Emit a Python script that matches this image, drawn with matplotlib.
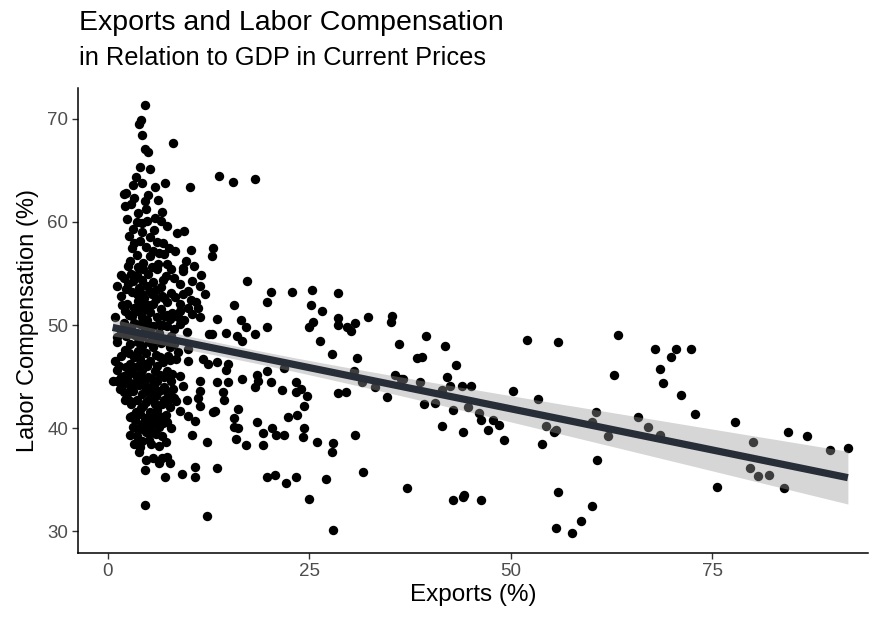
import numpy as np
import matplotlib
matplotlib.use('Agg')
import matplotlib.pyplot as plt

plt.rcParams['font.family'] = ['Liberation Sans', 'DejaVu Sans']

# exports (% of GDP), labor compensation (% of GDP) -- economies with small export shares
low_exports = [
    (4.6, 71.3), (4.1, 69.9), (3.9, 69.5), (4.2, 68.4), (4.6, 67.1), (5.0, 66.8), (8.1, 67.7),
    (4.0, 65.3), (5.2, 65.1), (3.5, 64.4), (3.1, 63.6), (4.2, 63.8), (5.8, 63.4), (7.1, 63.8),
    (10.2, 63.4), (2.3, 62.8), (2.0, 62.7), (6.2, 62.1), (2.1, 61.5), (2.9, 61.7), (3.7, 60.9),
    (4.8, 61.3), (6.7, 61.0), (5.8, 60.4), (3.6, 60.0), (4.3, 59.9), (3.1, 59.3), (4.3, 59.0),
    (2.6, 58.6), (5.2, 58.5), (6.1, 58.1), (6.8, 58.0), (8.6, 58.9), (9.5, 59.1), (3.0, 57.5),
    (4.8, 57.6), (3.6, 56.8), (5.2, 56.7), (10.3, 57.3), (2.5, 55.7), (6.2, 55.9), (7.4, 55.9),
    (9.3, 55.5), (3.7, 55.6), (6.1, 55.4), (7.9, 55.4), (9.3, 55.2), (6.8, 54.4), (1.2, 53.8),
    (3.1, 54.3), (4.3, 54.4), (5.6, 54.2), (10.4, 54.3), (11.6, 54.9), (11.4, 53.8), (1.6, 52.8),
    (3.0, 53.2), (4.3, 53.0), (5.2, 53.3), (6.7, 52.8), (9.3, 53.0), (9.9, 53.3), (12.0, 53.0),
    (2.4, 52.0), (3.7, 52.3), (5.6, 52.0), (7.3, 52.2), (8.9, 52.0), (2.1, 51.4), (3.6, 51.4),
    (5.2, 51.3), (8.9, 51.4), (9.9, 51.7), (11.2, 51.7), (0.9, 50.8), (3.0, 50.9), (4.3, 50.8),
    (6.1, 50.8), (7.7, 50.6), (8.7, 50.8), (10.5, 51.1), (11.4, 50.8), (4.0, 50.1), (5.6, 49.9),
    (7.3, 49.9), (8.9, 50.1), (9.8, 49.3), (12.6, 49.1), (1.1, 48.8), (4.3, 48.8), (2.4, 49.6),
    (6.4, 49.2), (1.1, 48.4), (2.7, 48.2), (4.3, 48.0), (5.6, 47.9), (7.7, 47.9), (8.7, 47.4),
    (9.9, 47.7), (8.5, 46.7), (9.9, 46.5), (11.8, 46.7), (12.4, 46.2), (0.9, 46.5), (1.7, 47.0),
    (2.7, 46.2), (4.0, 46.7), (5.2, 46.5), (6.8, 46.4), (1.2, 45.6), (3.0, 45.5), (4.3, 45.6),
    (5.8, 45.5), (7.4, 45.5), (8.9, 45.1), (1.1, 44.6), (2.5, 44.6), (4.3, 44.8), (6.1, 44.6),
    (7.9, 44.6), (9.3, 44.1), (11.4, 44.6), (0.6, 44.6), (1.5, 43.8), (3.1, 43.6), (4.8, 43.8),
    (6.4, 43.6), (8.1, 43.8), (11.4, 43.6), (2.1, 42.7), (3.6, 42.7), (5.2, 42.9), (7.3, 42.6),
    (9.8, 42.7), (11.2, 42.9), (2.7, 41.1), (4.0, 41.4), (5.2, 41.6), (6.4, 41.2), (7.7, 42.1),
    (8.9, 41.7), (9.9, 41.2), (10.8, 40.7), (11.4, 42.2), (3.0, 41.2), (3.1, 40.1), (4.3, 40.4),
    (5.5, 39.6), (6.7, 39.2), (7.9, 40.0), (2.7, 39.3), (3.3, 38.5), (4.2, 38.8), (6.4, 38.3),
    (10.5, 39.3), (12.3, 38.7), (4.8, 36.9), (5.6, 37.1), (6.7, 37.1), (7.4, 37.2), (4.6, 35.9),
    (6.4, 36.6), (7.7, 36.6), (7.1, 35.3), (9.2, 35.6), (10.8, 36.2), (10.8, 35.3), (4.6, 32.6),
    (4.9, 53.8), (4.5, 52.6), (5.0, 51.9), (4.6, 49.5), (5.1, 48.4), (4.7, 47.3), (5.0, 45.0),
    (4.6, 44.2), (5.3, 43.2), (4.4, 42.2), (5.8, 42.3), (5.0, 40.9), (3.8, 39.8), (5.9, 40.7),
    (3.7, 47.5), (3.4, 49.0), (6.0, 47.1), (6.3, 50.1), (2.9, 44.0), (3.6, 45.0),
    (2.0, 54.6), (3.6, 54.9), (5.0, 55.0), (6.6, 53.7), (7.8, 53.1), (2.3, 53.5), (3.9, 53.6),
    (6.0, 53.4), (1.8, 51.9), (3.2, 51.7), (4.4, 51.5), (6.6, 51.6), (8.0, 51.2), (2.0, 50.2),
    (3.3, 50.2), (4.9, 50.5), (7.0, 50.9), (1.7, 49.4), (3.1, 49.1), (5.4, 49.1), (7.8, 48.9),
    (2.1, 47.6), (6.6, 48.3), (8.2, 48.2), (2.6, 47.3), (4.5, 46.2), (6.1, 46.0), (7.7, 46.6),
    (2.0, 45.1), (3.7, 46.0), (6.5, 45.2), (8.0, 45.3), (1.9, 44.3), (3.4, 44.4), (5.6, 44.2),
    (7.0, 44.0), (2.4, 43.3), (4.2, 43.3), (6.0, 43.1), (7.6, 43.2), (2.9, 42.3), (4.7, 42.5),
    (6.7, 42.3), (8.5, 42.6), (3.5, 41.6), (4.6, 41.0), (6.1, 41.8), (7.2, 41.3), (3.9, 40.0),
    (5.3, 40.3), (6.8, 40.5), (4.7, 39.6), (6.0, 39.4), (3.6, 39.2), (5.1, 38.9),
    (2.8, 56.2), (4.4, 56.0), (5.6, 57.2), (7.0, 56.9), (8.2, 54.6), (2.9, 55.0), (4.4, 55.4),
    (5.5, 55.6), (7.2, 54.8), (1.6, 54.9), (2.5, 54.0), (3.6, 53.0), (5.5, 53.0), (7.0, 52.6),
    (8.3, 52.7), (2.6, 51.0), (4.0, 52.0), (6.0, 52.5), (7.4, 51.0), (9.4, 50.5), (2.9, 49.8),
    (5.0, 50.0), (6.8, 50.0), (8.2, 49.6), (3.8, 48.4), (5.9, 48.6), (7.1, 48.5), (2.2, 48.9),
    (10.3, 52.4), (11.0, 52.2), (9.0, 54.0), (10.7, 55.7), (8.3, 57.2), (7.6, 57.5), (6.4, 57.0),
    (4.0, 58.2), (9.7, 56.2),
    (1.4, 46.0), (2.2, 45.9), (3.2, 46.9), (4.9, 46.0), (6.5, 46.9), (7.5, 47.0), (1.6, 45.0),
    (2.6, 45.3), (4.0, 45.3), (5.5, 44.8), (7.0, 45.0), (2.0, 43.5), (3.9, 44.2), (5.9, 43.8),
    (7.3, 43.5), (2.7, 42.6), (4.1, 42.0), (5.6, 41.4), (7.0, 42.7), (8.2, 42.9), (3.4, 40.8),
    (4.6, 39.9), (6.3, 40.1), (7.3, 40.6), (4.0, 38.2), (5.4, 38.5), (7.2, 38.7), (3.9, 37.7),
    (3.3, 62.3), (5.0, 62.6), (4.9, 60.1), (3.3, 58.0), (5.7, 59.2), (7.4, 59.6), (2.4, 60.3),
    (6.6, 60.1), (4.6, 62.0),
]

# mid-range export shares
mid_exports = [
    (13.8, 64.5), (15.5, 63.9), (18.3, 64.2), (13.0, 57.5), (12.9, 56.7), (17.3, 54.3),
    (20.3, 53.2), (22.9, 53.2), (25.3, 53.4), (28.6, 53.1), (19.7, 52.2), (15.6, 51.9),
    (25.2, 51.9), (26.6, 51.4), (13.6, 50.6), (16.5, 50.5), (17.2, 49.8), (19.8, 49.8),
    (18.3, 49.1), (14.7, 49.2), (16.0, 48.9), (16.6, 48.5), (12.9, 49.1), (25.4, 50.3),
    (25.0, 49.8), (28.5, 50.7), (28.5, 50.0), (29.7, 49.8), (30.2, 49.4), (30.7, 50.2),
    (32.3, 50.8), (35.2, 50.9), (35.1, 50.3), (26.3, 48.5), (36.1, 48.2), (27.8, 47.2),
    (30.9, 46.8), (13.5, 46.4), (14.9, 46.2), (14.7, 45.6), (16.7, 44.8), (18.5, 45.2),
    (19.7, 45.5), (18.6, 44.6), (18.2, 44.0), (20.3, 44.5), (13.5, 44.5), (14.9, 44.5),
    (21.8, 45.8), (23.3, 44.5), (21.6, 43.7), (23.4, 43.5), (24.0, 43.8), (24.7, 43.1),
    (24.4, 42.2), (14.3, 43.5), (14.4, 42.7), (13.3, 41.7), (16.2, 41.9), (15.6, 41.0),
    (15.7, 40.1), (16.2, 40.0), (18.5, 40.6), (22.4, 41.1), (23.5, 41.3), (20.4, 40.0),
    (19.2, 39.5), (20.9, 39.3), (21.8, 39.3), (24.4, 40.0), (24.2, 39.1), (15.9, 39.0),
    (17.2, 38.4), (19.2, 38.4), (25.9, 38.7), (27.9, 38.6), (27.8, 37.7), (30.7, 39.3),
    (13.6, 36.1), (19.8, 35.3), (20.8, 35.5), (22.1, 34.7), (23.3, 35.3), (27.1, 35.1),
    (31.6, 35.8), (24.9, 33.1), (37.1, 34.2), (27.9, 30.1), (12.3, 31.5), (13.0, 41.6),
    (28.5, 43.4), (29.6, 43.5), (31.5, 44.5), (33.2, 44.0), (34.6, 43.0), (35.6, 45.2),
    (36.4, 44.8), (30.6, 45.5), (39.5, 48.9), (41.8, 48.0), (38.4, 46.8), (39.0, 46.9),
    (43.2, 46.1), (42.1, 45.0), (36.6, 44.8), (38.7, 44.5), (42.4, 44.1), (43.9, 44.1),
    (45.0, 44.1), (41.4, 43.7), (39.2, 42.3), (40.6, 42.4), (42.8, 41.8), (44.7, 42.1),
    (46.1, 41.5), (46.3, 40.8), (47.8, 40.8), (48.5, 40.3), (47.1, 39.8), (41.5, 40.2),
    (44.0, 39.6), (49.2, 38.9), (42.8, 33.0), (44.0, 33.3), (44.2, 33.5), (46.3, 33.0),
]

# high export shares
high_exports = [
    (50.3, 43.6), (53.4, 42.8), (52.0, 48.6), (55.9, 48.4), (54.4, 40.2), (55.4, 39.6),
    (53.9, 38.5), (60.6, 41.6), (60.7, 36.9), (55.8, 33.8), (60.1, 32.5), (58.7, 31.0),
    (57.6, 29.8), (55.6, 30.3), (63.3, 49.0), (67.9, 47.7), (70.5, 47.7), (72.4, 47.7),
    (69.8, 46.9), (68.5, 45.7), (68.9, 44.4), (62.8, 45.2), (71.1, 43.2), (72.9, 41.4),
    (60.0, 40.6), (65.8, 41.1), (67.0, 40.1), (68.5, 39.3), (62.0, 39.2), (77.8, 40.6),
    (80.0, 38.7), (84.4, 39.6), (86.7, 39.2), (89.6, 37.9), (91.8, 38.1), (79.6, 36.1),
    (80.7, 35.4), (82.0, 35.5), (83.9, 34.2), (75.6, 34.3), (55.6, 39.8),
]

pts = np.array(low_exports + mid_exports + high_exports)
exports = pts[:, 0]
labor = pts[:, 1]

# OLS fit with 95% confidence band
n = len(exports)
slope, intercept = np.polyfit(exports, labor, 1)
resid = labor - (intercept + slope * exports)
s = np.sqrt(np.sum(resid ** 2) / (n - 2))
xbar = exports.mean()
sxx = np.sum((exports - xbar) ** 2)
xs = np.linspace(exports.min(), exports.max(), 200)
fit = intercept + slope * xs
se = s * np.sqrt(1.0 / n + (xs - xbar) ** 2 / sxx)
tq = 1.967

fig = plt.figure(figsize=(8.73, 6.21), dpi=100)
ax = fig.add_axes([0.0893, 0.1095, 0.905, 0.749])

ax.scatter(exports, labor, s=46, color='black', lw=0, zorder=2)
ax.fill_between(xs, fit - tq * se, fit + tq * se, color='#999999', alpha=0.4, lw=0, zorder=3)
ax.plot(xs, fit, color='#272e38', lw=5.2, solid_capstyle='butt', zorder=4)

ax.set_xlim(-3.7, 94.3)
ax.set_ylim(27.9, 73.0)
ax.set_xticks([0, 25, 50, 75])
ax.set_yticks([30, 40, 50, 60, 70])

for side in ['top', 'right']:
    ax.spines[side].set_visible(False)
for side in ['left', 'bottom']:
    ax.spines[side].set_linewidth(1.1)
ax.tick_params(length=4, width=1.0, color='#333333', labelcolor='#4d4d4d', labelsize=13.5, pad=3)

ax.set_xlabel('Exports (%)', fontsize=17.5, labelpad=3)
ax.set_ylabel('Labor Compensation (%)', fontsize=17, labelpad=6)

fig.text(79 / 873, 1 - 30 / 621, 'Exports and Labor Compensation', fontsize=20.5, va='baseline')
fig.text(79 / 873, 1 - 65 / 621, 'in Relation to GDP in Current Prices', fontsize=18.3, va='baseline')

fig.savefig('out.png', dpi=100)
